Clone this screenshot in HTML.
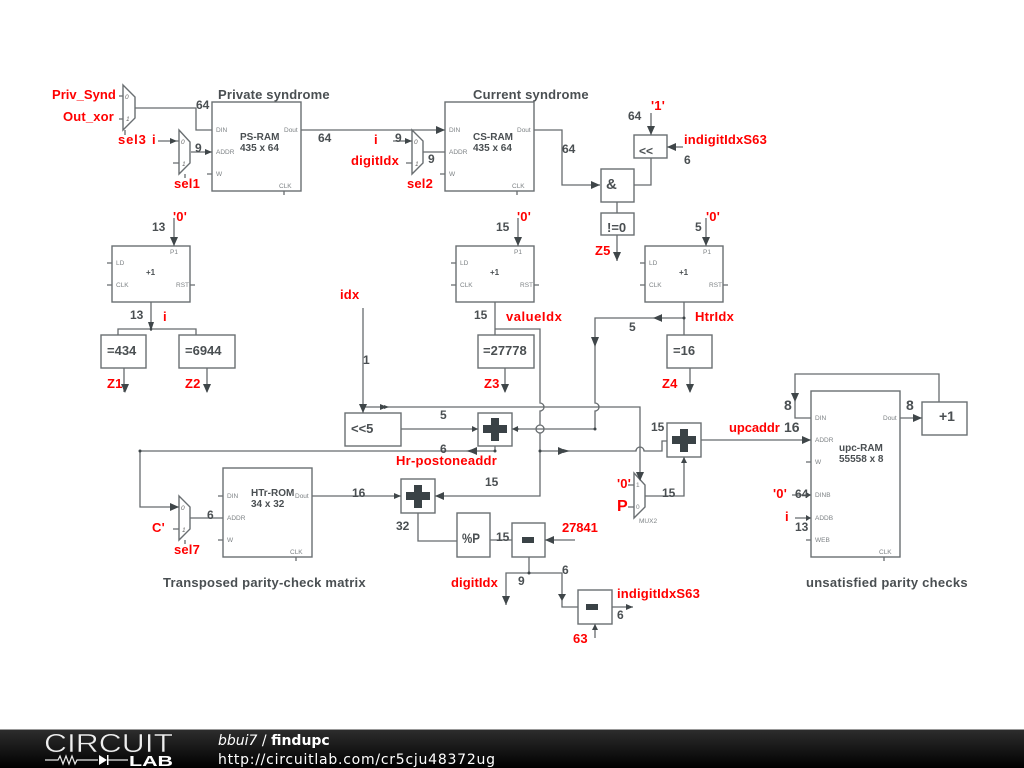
<!DOCTYPE html>
<html><head><meta charset="utf-8"><title>findupc</title>
<style>
html,body{margin:0;padding:0;background:#fff;width:1024px;height:768px;overflow:hidden}
svg{display:block}
text{font-family:"Liberation Sans",sans-serif}
.b{fill:#fff;stroke:#6a6f72;stroke-width:1.4}
.w{fill:none;stroke:#666b6e;stroke-width:1.3}
.a{fill:#3f4649;stroke:none}
.g{fill:#4a4f52;font-weight:bold;font-size:12px}
.r{fill:#f00;font-weight:bold;font-size:13px;letter-spacing:.2px}
.t{fill:#4a4f52;font-weight:bold;font-size:13px;letter-spacing:.4px}
.n{fill:#4a4f52;font-weight:bold;font-size:10px}
.p{fill:#7d8285;font-size:6.5px}
.m{fill:#666;font-size:6.5px;font-style:italic}
.c{fill:#3a4246}
.d{fill:#3f4649}
</style></head><body>
<svg width="1024" height="768" viewBox="0 0 1024 768" xmlns="http://www.w3.org/2000/svg">
<rect width="1024" height="768" fill="#fff"/>

<!-- wires -->
<path class="w" d="M119 96H123M119 119H123M125 130V135M135 108H196V130H212"/>
<path class="w" d="M158 141H179M173 163H179M185 174V178M191 152H212M207 174H212M284 191V195"/>
<path class="w" d="M301 130H445M393 141H412M406 163H412M423 152H445M440 174H445M517 191V195"/>
<path class="w" d="M534 130H562V185H600M634 185H651V158M651 113V135M683 147H667M617 202V213M617 235V261"/>
<path class="w" d="M174 218V246M107 263H112M107 285H112M190 285H195M151 302V331M118 335V329H196V335M124 368V392M207 368V392"/>
<path class="w" d="M518 218V246M451 263H456M451 285H456M534 285H539M495 302V335M495 329H540V403a4 4 0 0 1 0 8V425a4 4 0 0 1 0 8V496H435M505 368V392"/>
<path class="w" d="M706 218V246M640 263H645M640 285H645M723 285H728M684 302V335M690 368V392"/>
<path class="w" d="M684 318H595V403a4 4 0 0 1 0 8V429H517M517 429H512"/>
<path class="w" d="M363 308V413"/>
<path class="w" d="M363 407H640V480"/>
<path class="w" d="M540 425a4 4 0 0 0 0 8"/>
<path class="w" d="M401 429H478M495 446V451M495 451H140V507H179"/>
<path class="w" d="M540 451H636a4 4 0 0 1 8 0H662V441H667"/>
<path class="w" d="M173 529H179M185 540V544M190 518H223M218 496H223M218 540H223M296 557V561M312 496H401"/>
<path class="w" d="M418 513V541H457M490 540H512M529 557V573M529 573H506V605M529 573H562V607H578M575 540H545M595 638V624M612 607H633"/>
<path class="w" d="M628 485H634M628 507H634M645 496H684V457M701 440H811"/>
<path class="w" d="M811 418H795V374H939V402M900 418H922M806 462H811M792 495H811M795 518H811M806 540H811M884 557V561"/>

<!-- boxes -->
<rect class="b" x="212" y="102" width="89" height="89"/>
<rect class="b" x="445" y="102" width="89" height="89"/>
<rect class="b" x="223" y="468" width="89" height="89"/>
<rect class="b" x="811" y="391" width="89" height="166"/>
<rect class="b" x="601" y="169" width="33" height="33"/>
<rect class="b" x="634" y="135" width="33" height="23"/>
<rect class="b" x="601" y="213" width="33" height="22"/>
<rect class="b" x="112" y="246" width="78" height="56"/>
<rect class="b" x="456" y="246" width="78" height="56"/>
<rect class="b" x="645" y="246" width="78" height="56"/>
<rect class="b" x="101" y="335" width="45" height="33"/>
<rect class="b" x="179" y="335" width="56" height="33"/>
<rect class="b" x="478" y="335" width="56" height="33"/>
<rect class="b" x="667" y="335" width="45" height="33"/>
<rect class="b" x="345" y="413" width="56" height="33"/>
<rect class="b" x="478" y="413" width="34" height="33"/>
<rect class="b" x="667" y="423" width="34" height="34"/>
<rect class="b" x="401" y="479" width="34" height="34"/>
<rect class="b" x="922" y="402" width="45" height="33"/>
<rect class="b" x="457" y="513" width="33" height="44"/>
<rect class="b" x="512" y="523" width="33" height="34"/>
<rect class="b" x="578" y="590" width="34" height="34"/>

<!-- muxes -->
<path class="b" d="M123 85L135 97V118L123 130Z"/>
<path class="b" d="M179 130L190 142V163L179 174Z"/>
<path class="b" d="M412 130L423 141V163L412 174Z"/>
<path class="b" d="M179 496L190 507V529L179 540Z"/>
<path class="b" d="M634 473L645 485V507L634 518Z"/>

<!-- plus & minus symbols -->
<path class="c" d="M491 418h8v7h8v8h-8v8h-8v-8h-8v-8h8z"/>
<path class="c" d="M680 429h8v7h8v8h-8v8h-8v-8h-8v-8h8z"/>
<path class="c" d="M414 485h8v7h8v8h-8v8h-8v-8h-8v-8h8z"/>
<rect class="c" x="522" y="537" width="12" height="6"/>
<rect class="c" x="586" y="604" width="12" height="6"/>

<!-- arrowheads -->
<polygon class="a" points="170,138 177,141 170,144"/>
<polygon class="a" points="205,149 212,152 205,155"/>
<polygon class="a" points="436,126 445,130 436,134"/>
<polygon class="a" points="405,138 412,141 405,144"/>
<polygon class="a" points="591,181 600,185 591,189"/>
<polygon class="a" points="647,126 651,135 655,126"/>
<polygon class="a" points="676,143 667,147 676,151"/>
<polygon class="a" points="613,252 617,261 621,252"/>
<polygon class="a" points="170,237 174,246 178,237"/>
<polygon class="a" points="148,322 151,331 154,322"/>
<polygon class="a" points="121,384 125,393 129,384"/>
<polygon class="a" points="203,384 207,393 211,384"/>
<polygon class="a" points="514,237 518,246 522,237"/>
<polygon class="a" points="501,384 505,393 509,384"/>
<polygon class="a" points="702,237 706,246 710,237"/>
<polygon class="a" points="686,384 690,393 694,384"/>
<polygon class="a" points="662,314 655,318 662,322"/>
<polygon class="a" points="660,315 653,318 660,321"/>
<polygon class="a" points="591,337 595,347 599,337"/>
<polygon class="a" points="359,404 363,413 367,404"/>
<polygon class="a" points="380,404 387,407 380,410"/>
<polygon class="a" points="384,405 389,407 384,409"/>
<polygon class="a" points="472,426 478,429 472,432"/>
<polygon class="a" points="518,426 512,429 518,432"/>
<polygon class="a" points="636,472 640,481 644,472"/>
<polygon class="a" points="477,447 468,451 477,455"/>
<polygon class="a" points="473,449 466,451 473,453"/>
<polygon class="a" points="558,447 567,451 558,455"/>
<polygon class="a" points="563,449 570,451 563,453"/>
<polygon class="a" points="444,492 435,496 444,500"/>
<polygon class="a" points="394,493 401,496 394,499"/>
<polygon class="a" points="170,503 179,507 170,511"/>
<polygon class="a" points="681,463 684,457 687,463"/>
<polygon class="a" points="802,436 811,440 802,444"/>
<polygon class="a" points="791,393 795,402 799,393"/>
<polygon class="a" points="913,414 922,418 913,422"/>
<polygon class="a" points="806,492 811,495 806,498"/>
<polygon class="a" points="806,515 811,518 806,521"/>
<polygon class="a" points="502,596 506,605 510,596"/>
<polygon class="a" points="558,594 562,601 566,594"/>
<polygon class="a" points="554,536 545,540 554,544"/>
<polygon class="a" points="592,630 595,624 598,630"/>
<polygon class="a" points="626,604 633,607 626,610"/>

<!-- dots -->
<circle class="d" cx="151" cy="329" r="1.3"/><circle class="d" cx="684" cy="318" r="1.5"/>
<circle class="d" cx="595" cy="429" r="1.5"/><circle class="d" cx="517" cy="429" r="1.5"/>
<circle class="d" cx="363" cy="407" r="1.5"/><circle class="d" cx="495" cy="451" r="1.5"/>
<circle class="d" cx="140" cy="451" r="1.5"/><circle class="d" cx="540" cy="451" r="1.5"/>
<circle class="d" cx="529" cy="573" r="1.5"/>

<!-- pin labels -->
<g class="p">
<text x="216" y="132">DIN</text><text x="216" y="154">ADDR</text><text x="216" y="176">W</text><text x="284" y="132">Dout</text><text x="279" y="188">CLK</text>
<text x="449" y="132">DIN</text><text x="449" y="154">ADDR</text><text x="449" y="176">W</text><text x="517" y="132">Dout</text><text x="512" y="188">CLK</text>
<text x="227" y="498">DIN</text><text x="227" y="520">ADDR</text><text x="227" y="542">W</text><text x="295" y="498">Dout</text><text x="290" y="554">CLK</text>
<text x="815" y="420">DIN</text><text x="815" y="442">ADDR</text><text x="815" y="464">W</text><text x="883" y="420">Dout</text><text x="815" y="497">DINB</text><text x="815" y="520">ADDB</text><text x="815" y="542">WEB</text><text x="879" y="554">CLK</text>
<text x="116" y="265">LD</text><text x="116" y="287">CLK</text><text x="176" y="287">RST</text><text x="170" y="254">P1</text>
<text x="460" y="265">LD</text><text x="460" y="287">CLK</text><text x="520" y="287">RST</text><text x="514" y="254">P1</text>
<text x="649" y="265">LD</text><text x="649" y="287">CLK</text><text x="709" y="287">RST</text><text x="703" y="254">P1</text>
<text x="639" y="523">MUX2</text><text x="636" y="487">1</text><text x="636" y="509">0</text>
</g>
<g class="m">
<text x="125" y="99">0</text><text x="126" y="121">1</text>
<text x="181" y="144">0</text><text x="182" y="166">1</text>
<text x="414" y="144">0</text><text x="415" y="166">1</text>
<text x="181" y="510">0</text><text x="182" y="532">1</text>
</g>

<!-- component names -->
<g class="n">
<text x="240" y="140">PS-RAM</text><text x="240" y="151">435 x 64</text>
<text x="473" y="140">CS-RAM</text><text x="473" y="151">435 x 64</text>
<text x="251" y="496">HTr-ROM</text><text x="251" y="507">34 x 32</text>
<text x="839" y="451">upc-RAM</text><text x="839" y="462">55558 x 8</text>
<text x="146" y="275" font-size="8">+1</text><text x="490" y="275" font-size="8">+1</text><text x="679" y="275" font-size="8">+1</text>
</g>

<!-- titles -->
<text class="t" x="218" y="99" textLength="112">Private syndrome</text>
<text class="t" x="473" y="99" textLength="116">Current syndrome</text>
<text class="t" x="163" y="587" textLength="203">Transposed parity-check matrix</text>
<text class="t" x="806" y="587" textLength="162">unsatisfied parity checks</text>

<!-- gray labels -->
<g class="g">
<text x="196" y="109">64</text><text x="318" y="142">64</text><text x="195" y="152">9</text><text x="395" y="142">9</text><text x="428" y="163">9</text>
<text x="562" y="153">64</text><text x="628" y="120">64</text><text x="684" y="164">6</text>
<text x="606" y="189" font-size="15">&amp;</text><text x="639" y="155">&lt;&lt;</text><text x="607" y="232" font-size="13">!=0</text>
<text x="152" y="231">13</text><text x="130" y="319">13</text>
<text x="107" y="355" font-size="13">=434</text><text x="185" y="355" font-size="13">=6944</text>
<text x="496" y="231">15</text><text x="474" y="319">15</text><text x="483" y="355" font-size="13">=27778</text>
<text x="695" y="231">5</text><text x="629" y="331">5</text><text x="673" y="355" font-size="13">=16</text>
<text x="363" y="364">1</text><text x="351" y="433" font-size="13">&lt;&lt;5</text>
<text x="440" y="419">5</text><text x="440" y="453">6</text>
<text x="651" y="431">15</text><text x="485" y="486">15</text><text x="352" y="497">16</text><text x="396" y="530">32</text><text x="496" y="541">15</text><text x="662" y="497">15</text>
<text x="784" y="432" font-size="14">16</text><text x="784" y="410" font-size="14">8</text><text x="906" y="410" font-size="14">8</text><text x="939" y="421" font-size="14">+1</text>
<text x="795" y="498">64</text><text x="795" y="531">13</text><text x="207" y="519">6</text>
<text x="518" y="585">9</text><text x="562" y="574">6</text><text x="617" y="619">6</text>
<text x="462" y="543" font-size="14" textLength="18" lengthAdjust="spacingAndGlyphs">%P</text>
</g>

<!-- red labels -->
<g class="r">
<text x="52" y="99" textLength="64">Priv_Synd</text><text x="63" y="121" textLength="51">Out_xor</text>
<text x="118" y="144" textLength="28">sel3</text><text x="152" y="144">i</text><text x="174" y="188" textLength="26">sel1</text>
<text x="374" y="144">i</text><text x="351" y="165" textLength="48">digitIdx</text><text x="407" y="188" textLength="26">sel2</text>
<text x="651" y="110">'1'</text><text x="684" y="144" textLength="83">indigitIdxS63</text><text x="595" y="255">Z5</text>
<text x="173" y="221">'0'</text><text x="163" y="321">i</text><text x="107" y="388">Z1</text><text x="185" y="388">Z2</text>
<text x="517" y="221">'0'</text><text x="506" y="321" textLength="56">valueIdx</text><text x="484" y="388">Z3</text>
<text x="706" y="221">'0'</text><text x="695" y="321" textLength="39">HtrIdx</text><text x="662" y="388">Z4</text>
<text x="340" y="299">idx</text><text x="396" y="465" textLength="101">Hr-postoneaddr</text>
<text x="562" y="532" textLength="36">27841</text><text x="617" y="488">'0'</text><text x="617" y="511" font-size="16">P</text>
<text x="729" y="432" textLength="51">upcaddr</text><text x="773" y="498">'0'</text><text x="785" y="521">i</text>
<text x="152" y="532">C'</text><text x="174" y="554" textLength="26">sel7</text>
<text x="451" y="587" textLength="47">digitIdx</text><text x="617" y="598" textLength="83">indigitIdxS63</text><text x="573" y="643">63</text>
</g>

<!-- footer -->
<defs><linearGradient id="f" x1="0" y1="0" x2="0" y2="1"><stop offset="0" stop-color="#2e2e2e"/><stop offset="1" stop-color="#000"/></linearGradient></defs>
<rect x="0" y="729" width="1024" height="39" fill="url(#f)"/>
<rect x="0" y="729" width="1024" height="1" fill="#999"/>
<text x="44" y="752" font-size="26" textLength="129" lengthAdjust="spacingAndGlyphs" fill="#eee" stroke="#1c1c1c" stroke-width=".5">CIRCUIT</text>
<path d="M45 760H58l2-4 3 8 3-8 3 8 3-8 3 8 2-4H98M108 760H128" fill="none" stroke="#e8e8e8" stroke-width="1.2"/>
<path d="M99 755L107 760L99 765Z" fill="#fff"/><rect x="107" y="755" width="1.5" height="10" fill="#fff"/>
<text x="129" y="766" font-size="15" font-weight="bold" textLength="44" lengthAdjust="spacingAndGlyphs" fill="#fff">LAB</text>
<text x="218" y="745" style="font-family:'DejaVu Sans',sans-serif;font-size:14px" fill="#fff"><tspan font-style="italic">bbui7</tspan> / <tspan font-weight="bold">findupc</tspan></text>
<text x="218" y="764" style="font-family:'DejaVu Sans',sans-serif;font-size:14px" fill="#fff" textLength="277">http://circuitlab.com/cr5cju48372ug</text>
</svg>
</body></html>
